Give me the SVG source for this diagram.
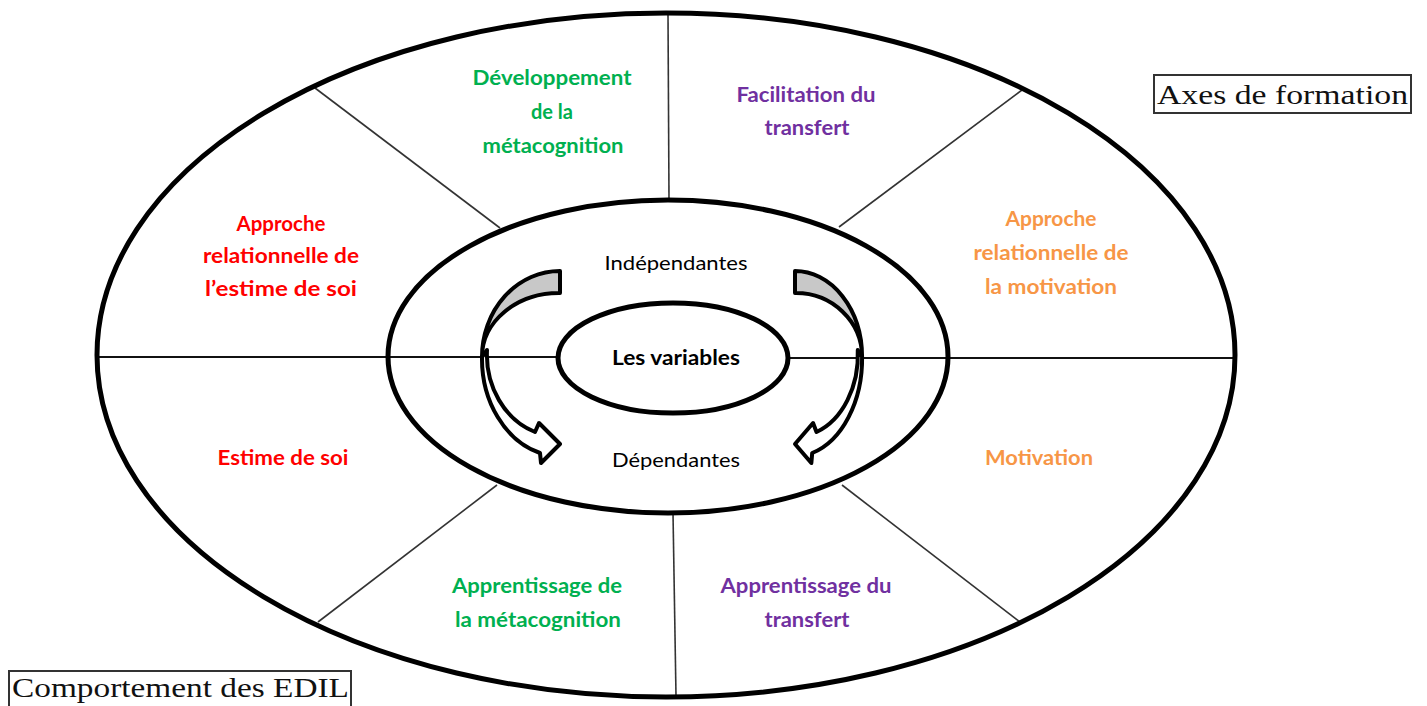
<svg xmlns="http://www.w3.org/2000/svg" width="1427" height="706" viewBox="0 0 1427 706">
<style>
.ell{fill:none;stroke:#000;stroke-width:5}
.sep{stroke:#333;stroke-width:1.6;fill:none}
.hl{stroke:#111;stroke-width:2;fill:none}
.lbl{font-family:Lato,"Open Sans",sans-serif;font-weight:bold;font-size:20px;text-anchor:middle}
.blk{font-family:Lato,"Open Sans",sans-serif;font-size:20px;text-anchor:middle;fill:#000}
.green{fill:#00b050}.purple{fill:#7030a0}.red{fill:#ff0000}.orange{fill:#f79646}
.box{fill:#fff;stroke:#333;stroke-width:2}
.serif{font-family:"Liberation Serif",serif;font-size:28px;fill:#111}
.arr{stroke:#000;stroke-width:4;stroke-linejoin:round}
</style>
<rect width="1427" height="706" fill="#fff"/>
<g id="connectors">
  <line class="sep" x1="668" y1="14" x2="669" y2="200"/>
  <line class="sep" x1="673" y1="513" x2="676" y2="696"/>
  <line class="hl" x1="98" y1="357" x2="558" y2="357"/>
  <line class="hl" x1="788" y1="358" x2="1233" y2="358"/>
  <line class="sep" x1="315" y1="88" x2="500" y2="228"/>
  <line class="sep" x1="1022" y1="90" x2="839" y2="227"/>
  <line class="sep" x1="318" y1="622" x2="497" y2="485"/>
  <line class="sep" x1="1020" y1="622" x2="842" y2="485"/>
</g>
<g id="outer-ellipse"><ellipse class="ell" cx="666" cy="355" rx="569" ry="342"/></g>
<g id="middle-ellipse"><ellipse class="ell" cx="668" cy="356.5" rx="280" ry="156.5"/></g>
<g id="arrow-left">
  <path class="arr" fill="#c8c8c8" d="M560,271 A78,86 0 0 0 482,357 A77,64 0 0 1 560,293 Z"/>
  <path class="arr" fill="#fff" d="M482,357 A80,98 0 0 0 540,453 L541,463 L560,444 L539,423 L535,432 A72,82 0 0 1 487,350 Z"/>
</g>
<g id="arrow-right" transform="translate(1276.6,0) scale(-0.86,1)">
  <path class="arr" fill="#c8c8c8" vector-effect="non-scaling-stroke" d="M560,271 A78,86 0 0 0 482,357 A77,64 0 0 1 560,293 Z"/>
  <path class="arr" fill="#fff" vector-effect="non-scaling-stroke" d="M482,357 A80,98 0 0 0 540,453 L541,463 L560,444 L539,423 L535,432 A72,82 0 0 1 487,350 Z"/>
</g>
<g id="inner-ellipse">
  <ellipse class="ell" cx="673" cy="358" rx="115" ry="55" fill="#fff"/>
  <text class="blk" x="676" y="365" font-weight="bold" textLength="128" lengthAdjust="spacingAndGlyphs">Les variables</text>
</g>
<g id="independantes"><text class="blk" x="676" y="270" textLength="143" lengthAdjust="spacingAndGlyphs">Indépendantes</text></g>
<g id="dependantes"><text class="blk" x="676" y="467" textLength="128" lengthAdjust="spacingAndGlyphs">Dépendantes</text></g>
<g id="dev-metacognition">
  <text class="lbl green" x="552" y="85" textLength="159" lengthAdjust="spacingAndGlyphs">Développement</text>
  <text class="lbl green" x="552" y="119">de la</text>
  <text class="lbl green" x="553" y="153" textLength="141" lengthAdjust="spacingAndGlyphs">métacognition</text>
</g>
<g id="facilitation-transfert">
  <text class="lbl purple" x="806" y="102" textLength="139" lengthAdjust="spacingAndGlyphs">Facilitation du</text>
  <text class="lbl purple" x="807" y="135" textLength="85" lengthAdjust="spacingAndGlyphs">transfert</text>
</g>
<g id="approche-estime">
  <text class="lbl red" x="281" y="231" textLength="89" lengthAdjust="spacingAndGlyphs">Approche</text>
  <text class="lbl red" x="281" y="263" textLength="156" lengthAdjust="spacingAndGlyphs">relationnelle de</text>
  <text class="lbl red" x="281" y="296" textLength="152" lengthAdjust="spacingAndGlyphs">l’estime de soi</text>
</g>
<g id="approche-motivation">
  <text class="lbl orange" x="1051" y="226" textLength="91" lengthAdjust="spacingAndGlyphs">Approche</text>
  <text class="lbl orange" x="1051" y="260" textLength="155" lengthAdjust="spacingAndGlyphs">relationnelle de</text>
  <text class="lbl orange" x="1051" y="294" textLength="132" lengthAdjust="spacingAndGlyphs">la motivation</text>
</g>
<g id="estime"><text class="lbl red" x="283" y="465" textLength="131" lengthAdjust="spacingAndGlyphs">Estime de soi</text></g>
<g id="motivation"><text class="lbl orange" x="1039" y="465" textLength="108" lengthAdjust="spacingAndGlyphs">Motivation</text></g>
<g id="app-metacognition">
  <text class="lbl green" x="537" y="593" textLength="170" lengthAdjust="spacingAndGlyphs">Apprentissage de</text>
  <text class="lbl green" x="538" y="627" textLength="166" lengthAdjust="spacingAndGlyphs">la métacognition</text>
</g>
<g id="app-transfert">
  <text class="lbl purple" x="806" y="593" textLength="171" lengthAdjust="spacingAndGlyphs">Apprentissage du</text>
  <text class="lbl purple" x="807" y="627" textLength="85" lengthAdjust="spacingAndGlyphs">transfert</text>
</g>
<g id="axes-formation">
  <rect class="box" x="1154" y="75" width="257" height="38"/>
  <text class="serif" x="1157" y="104" textLength="251" lengthAdjust="spacingAndGlyphs">Axes de formation</text>
</g>
<g id="comportement">
  <rect class="box" x="9" y="671" width="342" height="40"/>
  <text class="serif" x="12" y="697" textLength="337" lengthAdjust="spacingAndGlyphs">Comportement des EDIL</text>
</g>
</svg>
